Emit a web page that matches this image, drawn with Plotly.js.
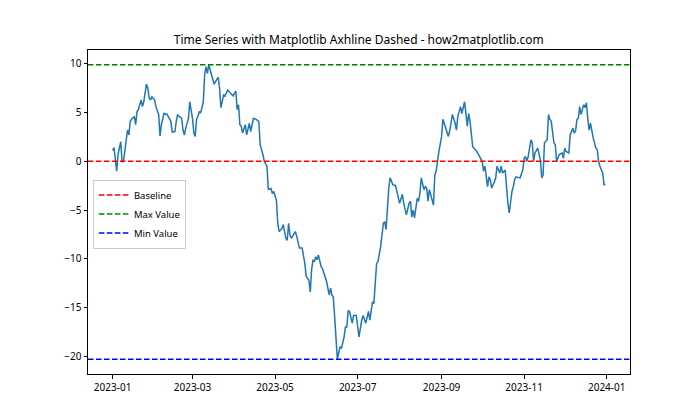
<!DOCTYPE html>
<html>
<head>
<meta charset="utf-8">
<script src="https://cdn.plot.ly/plotly-3.0.1.min.js"></script>
<style>
  html, body { margin: 0; padding: 0; background: #fff; }
  #graph { width: 700px; height: 420px; }
</style>
</head>
<body>
<div id="graph"></div>
<script>
// days since 2023-01-01
const dayOffsets = [
  0, 1, 3, 4, 6, 7, 8, 9, 11, 12, 13, 14, 16, 17, 18, 19, 20, 21, 22, 23,
  25, 26, 27, 28, 29, 31, 32, 34, 35, 36, 38, 39, 40, 41, 43, 44, 46, 47, 48, 49,
  51, 52, 53, 54, 56, 57, 58, 59, 60, 61, 62, 63, 64, 65, 67, 68, 69, 70, 71, 73,
  74, 75, 77, 78, 79, 80, 82, 83, 85, 87, 89, 91, 92, 93, 94, 95, 96, 98, 99, 101,
  102, 104, 106, 108, 109, 111, 112, 114, 115, 117, 118, 119, 121, 122, 123, 125, 126, 128, 129, 130,
  131, 132, 135, 136, 138, 140, 142, 143, 145, 146, 147, 148, 149, 150, 151, 152, 154, 155, 157, 158,
  160, 161, 162, 163, 164, 165, 166, 168, 169, 171, 172, 173, 174, 175, 177, 178, 180, 182, 183, 184,
  185, 187, 189, 190, 192, 193, 194, 195, 196, 198, 200, 201, 202, 203, 204, 205, 207, 209, 212, 214,
  215, 217, 219, 220, 221, 222, 223, 225, 226, 227, 228, 230, 231, 232, 233, 234, 236, 237, 238, 239,
  241, 243, 244, 246, 247, 248, 249, 251, 253, 254, 255, 257, 258, 260, 262, 263, 264, 266, 267, 269,
  271, 273, 274, 275, 277, 278, 279, 280, 282, 283, 284, 286, 287, 288, 290, 291, 292, 293, 294, 295,
  296, 297, 298, 301, 303, 304, 305, 306, 307, 309, 310, 311, 312, 314, 316, 317, 318, 319, 321, 322,
  323, 324, 326, 327, 328, 329, 330, 332, 333, 334, 335, 337, 338, 340, 341, 342, 343, 344, 345, 346,
  348, 349, 350, 351, 352, 353, 354, 355, 357, 358, 359, 360, 362, 363, 364
];
const values = [
  1.1, 1.4, -1.0, 0.7, 2.0, -0.1, 0.0, 1.0, 3.2, 2.7, 4.1, 4.3, 4.6, 3.75, 5.1, 5.3, 5.8, 6.3, 5.6, 6.1,
  7.9, 7.5, 6.5, 6.3, 6.6, 6.3, 5.6, 4.8, 2.6, 3.75, 4.95, 4.8, 4.85, 4.6, 4.1, 3.0, 3.05, 4.1, 4.8, 4.6,
  4.4, 3.2, 2.7, 3.4, 4.4, 6.1, 5.4, 4.4, 2.9, 2.55, 4.3, 4.6, 5.1, 4.95, 6.1, 8.9, 9.7, 9.0, 9.9, 8.9,
  8.5, 7.9, 8.4, 8.6, 7.5, 5.5, 6.8, 6.7, 7.3, 7.0, 6.7, 7.2, 5.3, 5.8, 3.75, 3.6, 2.9, 3.75, 2.7, 3.9,
  3.05, 4.4, 4.3, 4.1, 1.7, 0.7, 0.0, -0.5, -2.9, -2.8, -3.3, -3.1, -4.0, -6.4, -7.2, -6.9, -6.5, -7.9, -8.1, -6.35,
  -7.55, -7.9, -7.2, -7.7, -8.9, -8.9, -10.5, -11.8, -12.2, -13.4, -11.1, -10.1, -10.3, -9.8, -10.1, -9.6, -10.8, -11.0, -11.8, -12.3,
  -13.7, -13.0, -13.7, -13.9, -15.9, -18.0, -20.3, -19.0, -19.2, -18.0, -17.0, -17.0, -15.3, -15.4, -16.6, -15.8, -15.8, -18.0, -17.0, -16.3,
  -15.8, -16.6, -15.4, -16.3, -14.4, -14.6, -12.5, -10.5, -10.3, -8.75, -6.35, -6.2, -7.0, -4.1, -2.75, -1.7, -2.4, -2.5, -4.3, -3.4,
  -4.3, -5.5, -4.3, -4.1, -5.7, -5.0, -5.8, -3.8, -4.1, -3.3, -1.7, -2.9, -2.6, -2.75, -4.1, -2.9, -4.0, -4.5, -1.4, -1.0,
  1.0, 2.55, 4.3, 3.5, 2.9, 2.55, 3.1, 4.8, 3.9, 3.2, 4.6, 5.6, 4.9, 6.1, 3.6, 4.9, 4.1, 1.5, 1.35, 1.0,
  0.5, 0.0, -1.0, -0.5, -2.6, -1.6, -1.9, -2.75, -2.1, -1.7, -0.5, -1.2, -0.5, -1.2, -0.9, -2.9, -4.3, -5.3, -4.0, -3.1,
  -2.6, -1.9, -1.6, -1.7, -0.9, 0.3, 0.5, 0.0, 0.5, 2.2, 1.9, 0.0, 0.85, 1.35, 0.15, -1.7, -1.4, 1.9, 2.2, 4.8,
  4.3, 4.1, 1.9, 1.7, 0.0, 0.3, 0.7, 0.85, 0.3, 1.35, 1.0, 0.85, 2.7, 3.4, 2.9, 3.1, 4.3, 4.4, 5.6, 4.8,
  5.8, 5.5, 6.0, 4.4, 3.2, 3.9, 3.1, 2.4, 1.35, 1.2, 0.0, -0.5, -1.2, -2.4, -2.35
];

const xTickVals = ["2023-01-01", "2023-03-01", "2023-05-01", "2023-07-01", "2023-09-01", "2023-11-01", "2024-01-01"];
const xTickText = ["2023-01", "2023-03", "2023-05", "2023-07", "2023-09", "2023-11", "2024-01"];
const yTickVals = [-20, -15, -10, -5, 0, 5, 10];

const lineNames = ["Baseline", "Max Value", "Min Value"];
const lineColors = ["#ff0000", "#008000", "#0000ff"];

const DAY = 86400000;
const START = Date.UTC(2023, 0, 1);
const toDate = (d) => new Date(START + d * DAY).toISOString().slice(0, 19).replace("T", " ");

const dates = dayOffsets.map(toDate);
const maxVal = Math.max(...values);
const minVal = Math.min(...values);
const lineLevels = [0, maxVal, minVal];

// matplotlib style 5% margins
const firstDay = dayOffsets[0];
const lastDay = dayOffsets[dayOffsets.length - 1];
const padX = (lastDay - firstDay) * 0.05;
const xRange = [toDate(firstDay - padX), toDate(lastDay + padX)];
const padY = (maxVal - minVal) * 0.05;
const yRange = [minVal - padY, maxVal + padY];

const FONT = "Noto Sans, DejaVu Sans, sans-serif";

const traces = [
  {
    x: dates,
    y: values,
    type: "scatter",
    mode: "lines",
    line: { color: "#1f77b4", width: 1.5 },
    name: "Data",
    showlegend: false,
    hoverinfo: "skip",
  },
];

lineNames.forEach((name, i) => {
  traces.push({
    x: xRange,
    y: [lineLevels[i], lineLevels[i]],
    type: "scatter",
    mode: "lines",
    line: { color: lineColors[i], width: 1.5, dash: "5.5px,2.5px" },
    name: name,
    hoverinfo: "skip",
  });
});

const layout = {
  width: 700,
  height: 420,
  paper_bgcolor: "#ffffff",
  plot_bgcolor: "#ffffff",
  margin: { l: 87.5, r: 70, t: 50.4, b: 46.2, pad: 0 },
  font: { family: FONT, size: 10, color: "#000000" },
  title: {
    text: "Time Series with Matplotlib Axhline Dashed - how2matplotlib.com",
    font: { family: FONT, size: 12, color: "#000000" },
    x: 0.5125,
    xanchor: "center",
    y: 0.905,
    yanchor: "middle",
  },
  xaxis: {
    type: "date",
    range: xRange,
    tickmode: "array",
    tickvals: xTickVals,
    ticktext: xTickText,
    showgrid: false,
    zeroline: false,
    showline: true,
    mirror: true,
    linecolor: "#000000",
    linewidth: 1,
    ticks: "outside",
    ticklen: 3.5,
    tickwidth: 1,
    tickcolor: "#000000",
    tickfont: { family: FONT, size: 10, color: "#000000" },
  },
  yaxis: {
    range: yRange,
    tickmode: "array",
    tickvals: yTickVals,
    showgrid: false,
    zeroline: false,
    showline: true,
    mirror: true,
    linecolor: "#000000",
    linewidth: 1,
    ticks: "outside",
    ticklen: 3.5,
    tickwidth: 1,
    tickcolor: "#000000",
    tickfont: { family: FONT, size: 10, color: "#000000" },
  },
  legend: {
    x: 0.009,
    y: 0.6,
    xanchor: "left",
    yanchor: "top",
    bgcolor: "rgba(255,255,255,0.8)",
    bordercolor: "#cccccc",
    borderwidth: 1,
    font: { family: FONT, size: 9.5, color: "#000000" },
    itemwidth: 30,
    tracegroupgap: 0,
  },
  showlegend: true,
};

Plotly.newPlot("graph", traces, layout, { displayModeBar: false, staticPlot: true });
</script>
</body>
</html>
